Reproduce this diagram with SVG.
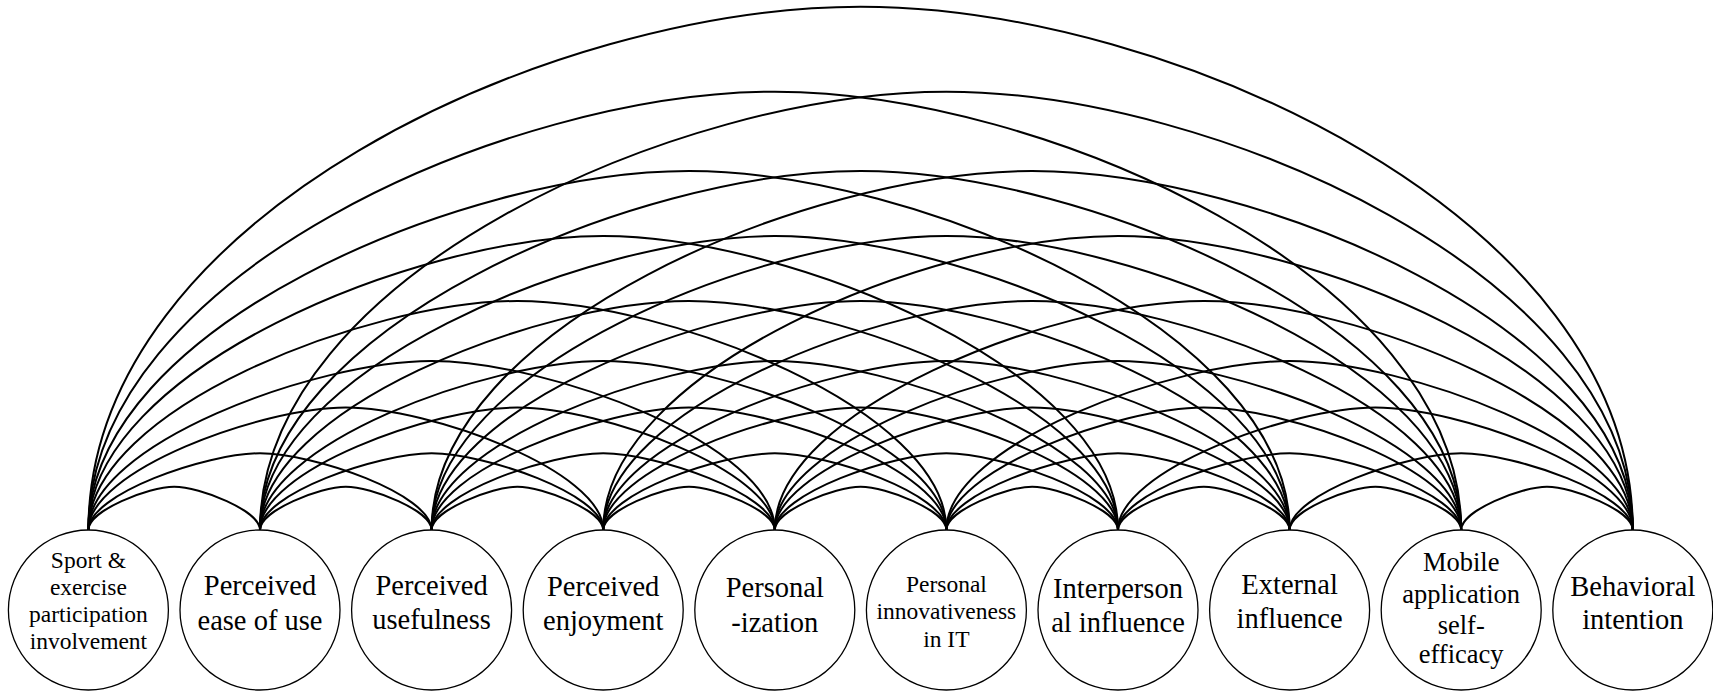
<svg xmlns="http://www.w3.org/2000/svg" xmlns:xlink="http://www.w3.org/1999/xlink" width="1713" height="696" viewBox="0 0 1713 696">
<style>
.arc{fill:none;stroke:#000;stroke-width:2}
.node circle{fill:#fff;stroke:#000;stroke-width:1.3}
.node text{font-family:"Liberation Serif","Times New Roman",serif;text-anchor:middle;fill:#000}
.big{font-size:28.5px}
.mid{font-size:26.5px}
.small{font-size:23.5px}
</style>
<defs>
<path id="s1" class="arc" d="M0,0 C0,-19.49 60.06,-43.3 85.8,-43.3 C111.54,-43.3 171.6,-19.49 171.6,0"/>
<path id="s2" class="arc" d="M0,0 C0,-35.95 117.98,-76.7 171.6,-76.7 C225.22,-76.7 343.2,-35.95 343.2,0"/>
<path id="s3" class="arc" d="M0,0 C0,-59.72 173.75,-122.5 257.4,-122.5 C341.05,-122.5 514.8,-59.72 514.8,0"/>
<path id="s4" class="arc" d="M0,0 C0,-85.56 227.37,-169 343.2,-169 C459.03,-169 686.4,-85.56 686.4,0"/>
<path id="s5" class="arc" d="M0,0 C0,-120.23 278.85,-229 429,-229 C579.15,-229 858,-120.23 858,0"/>
<path id="s6" class="arc" d="M0,0 C0,-159.86 328.19,-294 514.8,-294 C701.41,-294 1029.6,-159.86 1029.6,0"/>
<path id="s7" class="arc" d="M0,0 C0,-201.94 375.38,-359 600.6,-359 C825.82,-359 1201.2,-201.94 1201.2,0"/>
<path id="s8" class="arc" d="M0,0 C0,-254.76 420.42,-438.3 686.4,-438.3 C952.38,-438.3 1372.8,-254.76 1372.8,0"/>
<path id="s9" class="arc" d="M0,0 C0,-313.98 463.32,-523.3 772.2,-523.3 C1081.08,-523.3 1544.4,-313.98 1544.4,0"/>
</defs>
<g id="connectors">
<use href="#s1" x="88.4" y="530"/><use href="#s1" x="260" y="530"/><use href="#s1" x="431.6" y="530"/><use href="#s1" x="603.2" y="530"/><use href="#s1" x="774.8" y="530"/><use href="#s1" x="946.4" y="530"/><use href="#s1" x="1118" y="530"/><use href="#s1" x="1289.6" y="530"/><use href="#s1" x="1461.2" y="530"/>
<use href="#s2" x="88.4" y="530"/><use href="#s2" x="260" y="530"/><use href="#s2" x="431.6" y="530"/><use href="#s2" x="603.2" y="530"/><use href="#s2" x="774.8" y="530"/><use href="#s2" x="946.4" y="530"/><use href="#s2" x="1118" y="530"/><use href="#s2" x="1289.6" y="530"/>
<use href="#s3" x="88.4" y="530"/><use href="#s3" x="260" y="530"/><use href="#s3" x="431.6" y="530"/><use href="#s3" x="603.2" y="530"/><use href="#s3" x="774.8" y="530"/><use href="#s3" x="946.4" y="530"/><use href="#s3" x="1118" y="530"/>
<use href="#s4" x="88.4" y="530"/><use href="#s4" x="260" y="530"/><use href="#s4" x="431.6" y="530"/><use href="#s4" x="603.2" y="530"/><use href="#s4" x="774.8" y="530"/><use href="#s4" x="946.4" y="530"/>
<use href="#s5" x="88.4" y="530"/><use href="#s5" x="260" y="530"/><use href="#s5" x="431.6" y="530"/><use href="#s5" x="603.2" y="530"/><use href="#s5" x="774.8" y="530"/>
<use href="#s6" x="88.4" y="530"/><use href="#s6" x="260" y="530"/><use href="#s6" x="431.6" y="530"/><use href="#s6" x="603.2" y="530"/>
<use href="#s7" x="88.4" y="530"/><use href="#s7" x="260" y="530"/><use href="#s7" x="431.6" y="530"/>
<use href="#s8" x="88.4" y="530"/><use href="#s8" x="260" y="530"/>
<use href="#s9" x="88.4" y="530"/>
</g>
<g id="n1" class="node"><circle cx="88.4" cy="610" r="80"/><text class="small"><tspan x="88.4" y="568">Sport &amp;</tspan><tspan x="88.4" y="595">exercise</tspan><tspan x="88.4" y="622">participation</tspan><tspan x="88.4" y="648.5">involvement</tspan></text></g>
<g id="n2" class="node"><circle cx="260" cy="610" r="80"/><text class="big"><tspan x="260" y="595">Perceived</tspan><tspan x="260" y="630">ease of use</tspan></text></g>
<g id="n3" class="node"><circle cx="431.6" cy="610" r="80"/><text class="big"><tspan x="431.6" y="595">Perceived</tspan><tspan x="431.6" y="629">usefulness</tspan></text></g>
<g id="n4" class="node"><circle cx="603.2" cy="610" r="80"/><text class="big"><tspan x="603.2" y="596">Perceived</tspan><tspan x="603.2" y="630">enjoyment</tspan></text></g>
<g id="n5" class="node"><circle cx="774.8" cy="610" r="80"/><text class="big"><tspan x="774.8" y="597">Personal</tspan><tspan x="774.8" y="631.5">-ization</tspan></text></g>
<g id="n6" class="node"><circle cx="946.4" cy="610" r="80"/><text class="small"><tspan x="946.4" y="591.5">Personal</tspan><tspan x="946.4" y="619">innovativeness</tspan><tspan x="946.4" y="646.5">in IT</tspan></text></g>
<g id="n7" class="node"><circle cx="1118" cy="610" r="80"/><text class="big"><tspan x="1118" y="597.5">Interperson</tspan><tspan x="1118" y="631.5">al influence</tspan></text></g>
<g id="n8" class="node"><circle cx="1289.6" cy="610" r="80"/><text class="big"><tspan x="1289.6" y="593.5">External</tspan><tspan x="1289.6" y="627.5">influence</tspan></text></g>
<g id="n9" class="node"><circle cx="1461.2" cy="610" r="80"/><text class="mid"><tspan x="1461.2" y="571">Mobile</tspan><tspan x="1461.2" y="602.5">application</tspan><tspan x="1461.2" y="634">self-</tspan><tspan x="1461.2" y="662.5">efficacy</tspan></text></g>
<g id="n10" class="node"><circle cx="1632.8" cy="610" r="80"/><text class="big"><tspan x="1632.8" y="596">Behavioral</tspan><tspan x="1632.8" y="628.5">intention</tspan></text></g>
</svg>
